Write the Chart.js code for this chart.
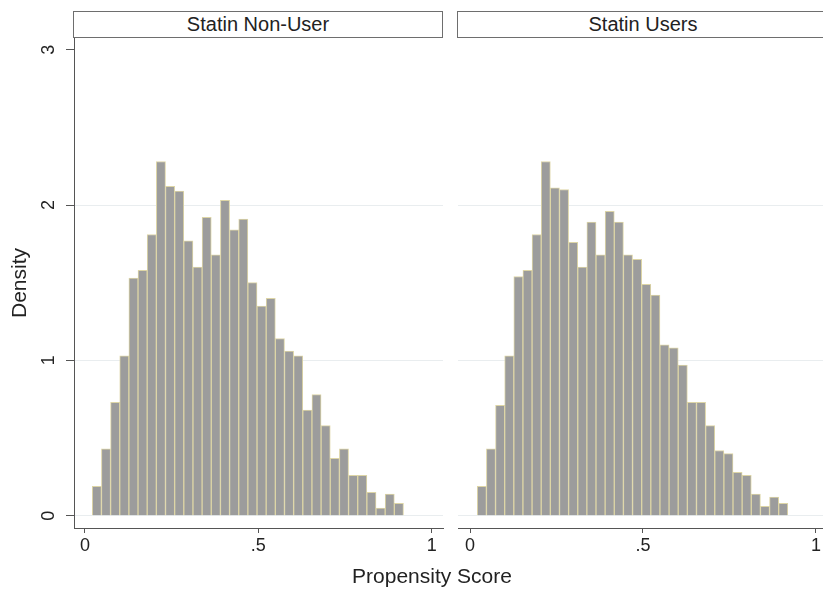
<!DOCTYPE html>
<html>
<head>
<meta charset="utf-8">
<script src="https://cdn.jsdelivr.net/npm/chart.js@4.4.1/dist/chart.umd.min.js"></script>
<style>
  body { margin: 0; background: #fff; font-family: "Liberation Sans", Arial, sans-serif; }
  #page { position: relative; width: 823px; height: 591px; overflow: hidden; }
  .strip { position: absolute; top: 11px; height: 25px; border: 1.5px solid #6e6e6e; box-sizing: content-box;
           font-size: 20px; color: #222; text-align: center; line-height: 25px; background: #fff; }
  .box { position: absolute; }
  #xtitle { position: absolute; top: 564px; left: 300px; width: 264px; text-align: center; font-size: 21px; color: #222; }
</style>
</head>
<body>
<div id="page">
  <div class="strip" style="left:73px; width:368px;">Statin Non-User</div>
  <div class="strip" style="left:457px; width:370px;">Statin Users</div>
  <div class="box" style="left:0; top:38px; width:450px; height:553px;"><canvas id="left"></canvas></div>
  <div class="box" style="left:450px; top:38px; width:373px; height:553px;"><canvas id="right"></canvas></div>
  <div id="xtitle">Propensity Score</div>
</div>
<script>
// bin midpoints (propensity score), 34 bins
const binMid = [0.0342, 0.0606, 0.0870, 0.1134, 0.1398, 0.1662, 0.1926, 0.2190, 0.2454, 0.2718,
                0.2982, 0.3246, 0.3510, 0.3774, 0.4038, 0.4302, 0.4566, 0.4830, 0.5094, 0.5358,
                0.5622, 0.5886, 0.6150, 0.6414, 0.6678, 0.6942, 0.7206, 0.7470, 0.7734, 0.7998,
                0.8262, 0.8526, 0.8790, 0.9054];
const nonUser = [0.19, 0.43, 0.73, 1.03, 1.53, 1.58, 1.81, 2.28, 2.12, 2.09,
                 1.77, 1.60, 1.92, 1.68, 2.03, 1.84, 1.91, 1.50, 1.35, 1.40,
                 1.14, 1.06, 1.03, 0.68, 0.78, 0.58, 0.37, 0.43, 0.26, 0.26,
                 0.15, 0.05, 0.14, 0.08];
const users = [0.19, 0.43, 0.71, 1.03, 1.54, 1.58, 1.81, 2.28, 2.11, 2.10,
               1.76, 1.60, 1.89, 1.68, 1.96, 1.89, 1.68, 1.65, 1.49, 1.42,
               1.10, 1.08, 0.97, 0.73, 0.73, 0.58, 0.42, 0.40, 0.28, 0.26,
               0.14, 0.06, 0.12, 0.08];
const xTicks = [0, 0.5, 1];
const xTickLabels = ['0', '.5', '1'];
const yTicks = [0, 1, 2, 3];
const yTickLabels = ['0', '1', '2', '3'];

const font = "'Liberation Sans', Arial, sans-serif";
const axisCol = '#555';
const gridCol = '#e9edef';

// y tick labels in Stata style: rotated, centred on the tick
const rotatedYLabels = {
  id: 'rotatedYLabels',
  afterDraw(chart, args, opts) {
    if (!opts.show) return;
    const y = chart.scales.y;
    const ctx = chart.ctx;
    ctx.save();
    ctx.fillStyle = '#222';
    ctx.font = "18px " + font;
    ctx.textAlign = 'center';
    ctx.textBaseline = 'middle';
    yTicks.forEach((v, i) => {
      ctx.save();
      ctx.translate(y.right - 25, y.getPixelForValue(v));
      ctx.rotate(-Math.PI / 2);
      ctx.fillText(yTickLabels[i], 0, 0);
      ctx.restore();
    });
    ctx.restore();
  }
};

function makePanel(id, values, showY, xmin, xmax, padLeft) {
  const ctx = document.getElementById(id).getContext('2d');
  return new Chart(ctx, {
    type: 'bar',
    data: {
      datasets: [{
        data: binMid.map((x, i) => ({ x: x, y: values[i] })),
        backgroundColor: '#9c9c9c',
        borderColor: '#ddd5a6',
        borderWidth: 1,
        barPercentage: 1,
        categoryPercentage: 1
      }]
    },
    plugins: [rotatedYLabels],
    options: {
      responsive: true,
      maintainAspectRatio: false,
      animation: false,
      layout: { autoPadding: false, padding: { left: padLeft, right: showY ? 7 : 0, top: 0, bottom: 0 } },
      plugins: { legend: { display: false }, tooltip: { enabled: false }, rotatedYLabels: { show: showY } },
      scales: {
        x: {
          type: 'linear',
          offset: false,
          min: xmin, max: xmax,
          afterBuildTicks: s => { s.ticks = xTicks.map(v => ({ value: v })); },
          afterFit: s => { s.height = 63; },
          border: { display: true, color: axisCol, width: 1 },
          grid: { offset: false, drawOnChartArea: false, drawTicks: true, tickLength: 5, tickColor: axisCol },
          ticks: {
            padding: 2, color: '#222', font: { family: font, size: 18 },
            maxRotation: 0, minRotation: 0,
            callback: v => xTickLabels[xTicks.indexOf(v)]
          }
        },
        y: {
          min: -0.079, max: 3.075,
          afterBuildTicks: s => { s.ticks = yTicks.map(v => ({ value: v })); },
          afterFit: s => { s.width = showY ? 74 : 0; },
          border: { display: showY, color: axisCol, width: 1 },
          grid: {
            color: c => (c.tick && c.tick.value === 3) ? 'rgba(0,0,0,0)' : gridCol,
            drawTicks: showY, tickLength: 8, tickColor: axisCol
          },
          ticks: { display: false },
          title: {
            display: showY, text: 'Density', color: '#222',
            font: { family: font, size: 21 }, padding: { top: 8, bottom: 0 }
          }
        }
      }
    }
  });
}

makePanel('left', nonUser, true, -0.0317, 1.0326, 0);
makePanel('right', users, false, -0.0347, 1.0203, 8);
</script>
</body>
</html>
